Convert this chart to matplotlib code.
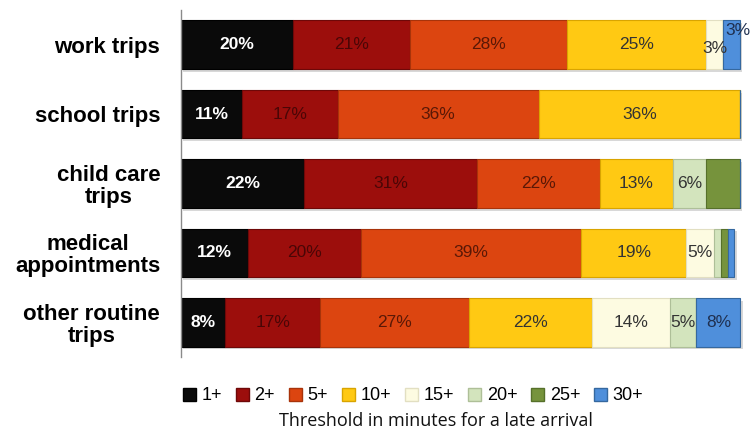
import numpy as np
import matplotlib.pyplot as plt
from matplotlib.patches import Patch

# Datos
categorias = ["work trips", "school trips", "child care\ntrips",
              "medical\nappointments", "other routine\ntrips"]
series = ["1+", "2+", "5+", "10+", "15+", "20+", "25+", "30+"]

v_1 = [20, 11, 22, 12, 7.9]
v_2 = [21, 17, 31, 20.2, 17]
v_5 = [28, 36, 22, 39.4, 26.6]
v_10 = [25, 36, 13, 18.8, 22]
v_15 = [3, 0, 0, 5, 13.9]
v_20 = [0, 0, 6, 1.2, 4.8]
v_25 = [0, 0, 6, 1.2, 0]
v_30 = [3, 0, 0, 1.2, 7.9]
valores = [v_1, v_2, v_5, v_10, v_15, v_20, v_25, v_30]

# Estilos
colores = ["#0a0a0a", "#9c0e0c", "#dc4510", "#ffc913", "#fdfbe1",
           "#d3e4bd", "#76933c", "#4f8fdb"]
bordes = ["#000000", "#6e0808", "#a8330a", "#d9a400", "#e2dfc2",
          "#aebf98", "#56702a", "#35689f"]
color_texto = ["white", "#4a0606", "#5a1806", "#333333", "#333333",
               "#333333", "#333333", "#1f3050"]

fig = plt.figure(figsize=(7.54, 4.32), dpi=100)
ax = fig.add_axes([181 / 754, 1 - 357 / 432, 569 / 754, 347 / 432])

y = np.arange(len(categorias))
izq = np.zeros(len(categorias))
for i, s in enumerate(series):
    vals = np.array(valores[i], dtype=float)
    # sombra
    ax.barh(y + 0.04, vals, left=izq + 0.4, height=0.70, color="#d8d8d8",
            zorder=1)
    ax.barh(y, vals, left=izq, height=0.70, color=colores[i],
            edgecolor=bordes[i], linewidth=0.8, zorder=2)
    for j, v in enumerate(vals):
        if v < 3 or (j == 2 and s == "25+"):
            continue
        cx = izq[j] + v / 2
        cy = y[j]
        if j == 0 and s == "30+":
            cx += 1.2
            cy -= 0.2
        elif j == 0 and s == "15+":
            cy += 0.06
        ax.text(cx, cy, f"{v:.0f}%", ha="center", va="center",
                fontsize=12.5, color=color_texto[i],
                fontweight="bold" if i == 0 else "normal",
                family="Liberation Sans", zorder=3)
    izq += vals

ax.set_xlim(0, 101.8)
ax.set_ylim(4.5, -0.5)
ax.set_yticks(y)
ax.set_yticklabels(categorias, fontsize=16, fontweight="bold",
                   family="Liberation Sans", multialignment="center",
                   linespacing=1.05)
ax.tick_params(axis="y", length=0, pad=15)
ax.set_xticks([])
for lado in ["top", "right", "bottom"]:
    ax.spines[lado].set_visible(False)
ax.spines["left"].set_color("#8a8a8a")
ax.spines["left"].set_linewidth(1.0)

# Leyenda
handles = [Patch(facecolor=colores[i], edgecolor=bordes[i], label=s)
           for i, s in enumerate(series)]
fig.legend(handles=handles, loc="center", bbox_to_anchor=(413 / 754, 1 - 396 / 432),
           ncol=8, frameon=False, handlelength=0.75, handleheight=0.75,
           handletextpad=0.3, columnspacing=0.75,
           prop={"family": "Liberation Sans", "size": 13})
fig.text(436 / 754, 1 - 421 / 432, "Threshold in minutes for a late arrival",
         ha="center", va="center", fontsize=13, family="Open Sans",
         color="#111111")

fig.savefig("out.png", dpi=100)
